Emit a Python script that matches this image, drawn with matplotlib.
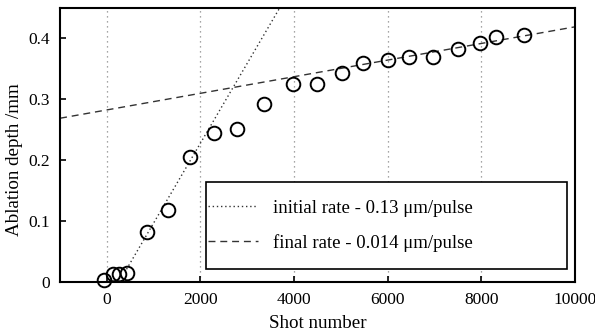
import matplotlib
matplotlib.use('Agg')
import matplotlib.pyplot as plt
from matplotlib.patches import Rectangle

plt.rcParams['font.family'] = ['Liberation Serif', 'DejaVu Serif']

# measured ablation depth vs shot number
shots = [-60, 130, 250, 425, 850, 1300, 1770, 2280, 2790, 3360, 3980,
         4490, 5020, 5470, 6000, 6450, 6960, 7510, 7980, 8320, 8920]
depth = [0.004, 0.014, 0.014, 0.015, 0.082, 0.118, 0.205, 0.244, 0.252, 0.293, 0.325,
         0.326, 0.344, 0.360, 0.364, 0.369, 0.369, 0.382, 0.392, 0.403, 0.406]

# fitted lines (end points)
initial_x = [420, 3700]
initial_y = [0.021, 0.451]
final_x = [-1000, 10000]
final_y = [0.269, 0.419]

labels = ['initial rate - 0.13 \u03bcm/pulse', 'final rate - 0.014 \u03bcm/pulse']

fig = plt.figure(figsize=(5.95, 3.33), dpi=100)
ax = fig.add_axes([0.101, 0.153, 0.865, 0.823])

for gx in [0, 2000, 4000, 6000, 8000]:
    ax.axvline(gx, color='#888888', linestyle=(0, (1, 3)), linewidth=0.9, zorder=0)

l1, = ax.plot(initial_x, initial_y, color='#333333', linestyle=(0, (1, 2)), linewidth=1.0)
l2, = ax.plot(final_x, final_y, color='#333333', linestyle=(0, (5, 3.5)), linewidth=1.0)
ax.plot(shots, depth, linestyle='none', marker='o', markersize=9.8,
        markerfacecolor='none', markeredgecolor='black', markeredgewidth=1.4,
        clip_on=False, zorder=3)

ax.set_xlim(-1000, 10000)
ax.set_ylim(0, 0.45)
ax.set_xticks([0, 2000, 4000, 6000, 8000, 10000])
ax.set_yticks([0, 0.1, 0.2, 0.3, 0.4])
ax.set_yticklabels(['0', '0.1', '0.2', '0.3', '0.4'])
ax.tick_params(direction='in', length=4, width=1.2, labelsize=12.5, pad=7)
for s in ax.spines.values():
    s.set_linewidth(1.5)

ax.set_xlabel('Shot number', fontsize=13.7, labelpad=5)
ax.set_ylabel('Ablation depth /mm', fontsize=13.7)
ax.yaxis.set_label_coords(-0.072, 0.445)

# legend box
ax.add_patch(Rectangle((0.283, 0.047), 0.701, 0.318, transform=ax.transAxes,
                       facecolor='white', edgecolor='black', linewidth=1.2, zorder=4))
leg = ax.legend([l1, l2], labels, loc='center left',
                bbox_to_anchor=(0.287, 0.206), borderaxespad=0, borderpad=0,
                fontsize=13.5, handlelength=2.7, handletextpad=0.8,
                labelspacing=0.92, frameon=False)
leg.set_zorder(5)

fig.savefig('out.png', dpi=100)
